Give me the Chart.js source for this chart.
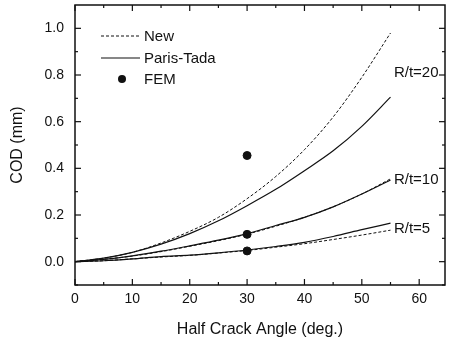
<!DOCTYPE html>
<html>
<head>
<meta charset="utf-8">
<script src="https://cdn.jsdelivr.net/npm/chart.js@4.4.0/dist/chart.umd.min.js"></script>
<style>
  html, body { margin: 0; padding: 0; background: #fff; }
  #wrap { width: 450px; height: 343px; }
</style>
</head>
<body>
<div id="wrap"><canvas id="c" width="450" height="343"></canvas></div>
<script>
// half crack angle (deg.)
const angles = [0, 5, 10, 15, 20, 25, 30, 35, 40, 45, 50, 55];

// COD (mm)
const newR20   = [0, 0.015, 0.04, 0.08, 0.13, 0.19, 0.27, 0.365, 0.48, 0.62, 0.79, 0.98];
const parisR20 = [0, 0.015, 0.04, 0.075, 0.12, 0.175, 0.24, 0.31, 0.39, 0.475, 0.58, 0.705];
const newR10   = [0, 0.01, 0.024, 0.043, 0.066, 0.09, 0.118, 0.152, 0.19, 0.235, 0.29, 0.355];
const parisR10 = [0, 0.01, 0.025, 0.045, 0.068, 0.092, 0.12, 0.155, 0.19, 0.235, 0.29, 0.35];
const newR5    = [0, 0.004, 0.012, 0.02, 0.027, 0.037, 0.048, 0.062, 0.077, 0.095, 0.114, 0.135];
const parisR5  = [0, 0.004, 0.012, 0.022, 0.028, 0.038, 0.05, 0.065, 0.083, 0.108, 0.137, 0.165];

const femAngles = [30, 30, 30];
const femCod    = [0.455, 0.117, 0.046];

const xTicks = [0, 10, 20, 30, 40, 50, 60];
const xMinor = [5, 15, 25, 35, 45, 55];
const yTicks = [0, 0.2, 0.4, 0.6, 0.8, 1.0];
const yMinor = [-0.1, 0.1, 0.3, 0.5, 0.7, 0.9];

const curveLabels = ["R/t=20", "R/t=10", "R/t=5"];
const curveLabelAt = [[55.6, 0.81], [55.6, 0.35], [55.6, 0.14]];

const FONT = "Liberation Sans, Arial, sans-serif";

function pts(xs, ys){
  return xs.map((x, i) => ({ x, y: ys[i] }));
}

function curve(ys, dashed){
  return {
    type: "line",
    data: pts(angles, ys),
    borderColor: "#111",
    borderWidth: dashed ? 1 : 1.2,
    borderDash: dashed ? [3, 2] : [],
    pointRadius: 0,
    fill: false,
    cubicInterpolationMode: "monotone"
  };
}

const framePlugin = {
  id: "frame",
  afterDraw(chart){
    const { ctx, chartArea: a, scales: { x, y } } = chart;
    ctx.save();
    ctx.strokeStyle = "#111";
    ctx.lineWidth = 1.5;
    ctx.strokeRect(a.left, a.top, a.right - a.left, a.bottom - a.top);

    ctx.lineWidth = 1.2;
    const tick = (x1, y1, x2, y2) => { ctx.beginPath(); ctx.moveTo(x1, y1); ctx.lineTo(x2, y2); ctx.stroke(); };
    xTicks.concat(xMinor).forEach(v => {
      const len = xTicks.includes(v) ? 6 : 3;
      const px = x.getPixelForValue(v);
      tick(px, a.bottom, px, a.bottom - len);
      tick(px, a.top, px, a.top + len);
    });
    yTicks.concat(yMinor).forEach(v => {
      const len = yTicks.includes(v) ? 6 : 3;
      const py = y.getPixelForValue(v);
      tick(a.left, py, a.left + len, py);
      tick(a.right, py, a.right - len, py);
    });

    // curve annotations
    ctx.fillStyle = "#111";
    ctx.font = "15px " + FONT;
    ctx.textBaseline = "middle";
    ctx.textAlign = "left";
    curveLabels.forEach((t, i) => {
      ctx.fillText(t, x.getPixelForValue(curveLabelAt[i][0]), y.getPixelForValue(curveLabelAt[i][1]));
    });

    // legend
    const lx = a.left + 26, ly = a.top + 31;
    ctx.lineWidth = 1;
    ctx.setLineDash([3, 2]);
    tick(lx, ly, lx + 39, ly);
    ctx.setLineDash([]);
    ctx.lineWidth = 1.2;
    tick(lx, ly + 22, lx + 39, ly + 22);
    ctx.beginPath();
    ctx.arc(lx + 21, ly + 43, 4, 0, Math.PI * 2);
    ctx.fill();
    ctx.fillText("New", lx + 43, ly + 1);
    ctx.fillText("Paris-Tada", lx + 43, ly + 23);
    ctx.fillText("FEM", lx + 43, ly + 44);
    ctx.restore();
  }
};

new Chart(document.getElementById("c"), {
  data: {
    datasets: [
      curve(newR20, true), curve(parisR20, false),
      curve(newR10, true), curve(parisR10, false),
      curve(newR5, true),  curve(parisR5, false),
      {
        type: "scatter",
        data: pts(femAngles, femCod),
        backgroundColor: "#111",
        borderColor: "#111",
        pointRadius: 4
      }
    ]
  },
  options: {
    responsive: false,
    animation: false,
    layout: { padding: { top: 5, right: 1, left: 0, bottom: 0 } },
    plugins: { legend: { display: false }, tooltip: { enabled: false } },
    scales: {
      x: {
        type: "linear",
        min: 0, max: 64.5,
        afterBuildTicks: s => { s.ticks = xTicks.map(v => ({ value: v })); },
        afterFit: s => { s.height = 58; s.paddingLeft = 0; s.paddingRight = 0; },
        grid: { display: false, drawTicks: false },
        border: { display: false },
        ticks: { color: "#111", font: { family: FONT, size: 14 }, padding: 6, maxRotation: 0 },
        title: { display: true, text: "Half Crack Angle (deg.)", color: "#111", font: { family: FONT, size: 16 }, padding: { top: 9 } }
      },
      y: {
        type: "linear",
        min: -0.1, max: 1.1,
        afterBuildTicks: s => { s.ticks = yTicks.map(v => ({ value: v })); },
        afterFit: s => { s.width = 75; s.paddingTop = 0; s.paddingBottom = 0; },
        grid: { display: false, drawTicks: false },
        border: { display: false },
        ticks: { color: "#111", font: { family: FONT, size: 14 }, padding: 11, callback: v => Number(v).toFixed(1) },
        title: { display: true, text: "COD (mm)", color: "#111", font: { family: FONT, size: 16 }, padding: { top: 8, bottom: 4 } }
      }
    }
  },
  plugins: [framePlugin]
});
</script>
</body>
</html>
